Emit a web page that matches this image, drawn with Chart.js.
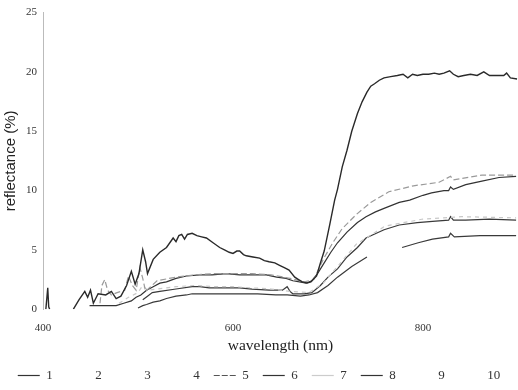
<!DOCTYPE html>
<html><head><meta charset="utf-8">
<script src="https://cdn.jsdelivr.net/npm/chart.js@4"></script>
<style>html,body{margin:0;padding:0;background:#fff}#wrap{width:518px;height:390px}</style>
</head><body><div id="wrap"><canvas id="c" width="518" height="390"></canvas></div>
<script>
const seriesNames = ['1','2','3','4','5','6','7','8','9','10'];
const xTicks = [400, 600, 800];
const yTicks = [0, 5, 10, 15, 20, 25];

const s1_nm  = [403,405,406,407,415,432,438,444,447,450,453,458,466,472,477,482,488,493,497,501,505,508,510,516,523,530,537,540,543,546,549,552,557,562,567,572,579,586,591,596,600,604,607,611,614,621,628,633,638,644,649,654,659,665,669,673,678,682,688,692,696,702,707,710,715,720,725,731,736,741,745,749,754,759,766,773,779,784,789,794,800,806,812,817,822,828,832,837,843,850,857,864,870,877,885,888,892,899];
const s1_val = [0,1.8,0.2,0,null,0,0.8,1.5,1.0,1.6,0.5,1.3,1.2,1.5,0.9,1.1,2.0,3.2,2.1,3.0,5.0,4.0,3.0,4.2,4.8,5.2,6.0,5.7,6.2,6.3,5.9,6.3,6.4,6.2,6.1,6.0,5.6,5.2,5.0,4.8,4.7,4.9,4.9,4.6,4.5,4.4,4.3,4.1,4.0,3.9,3.7,3.5,3.3,2.7,2.5,2.3,2.2,2.3,2.8,3.9,4.9,7.2,9.2,10.1,12.0,13.4,15.0,16.5,17.5,18.3,18.8,19.0,19.3,19.5,19.6,19.7,19.8,19.5,19.8,19.7,19.8,19.8,19.9,19.8,19.9,20.1,19.8,19.6,19.7,19.8,19.7,20.0,19.7,19.7,19.7,19.9,19.5,19.4];

const s5_nm  = [460,462,465,468,472,478,482,486,490,494,498,502,505,508,520,540,560,580,600,620,640,660,675,685,695,705,715,730,745,764,790,817,829,832,862,898];
const s5_val = [0.5,2.0,2.5,1.6,1.2,1.4,1.5,1.6,2.8,2.0,1.6,3.5,2.6,1.5,2.4,2.7,2.9,3.0,3.0,3.0,2.9,2.6,2.3,2.5,4.2,5.6,6.8,8.0,9.0,9.9,10.4,10.7,11.2,10.9,11.3,11.3];

const s6_nm  = [449,460,470,477,485,493,498,503,509,516,523,530,540,551,565,578,593,607,620,635,646,656,663,670,677,683,689,696,703,710,720,731,740,750,759,775,786,800,809,822,827,829,832,845,862,880,898];
const s6_val = [0.3,0.3,0.3,0.3,0.5,0.7,1.0,1.2,1.6,1.9,2.2,2.3,2.6,2.8,2.9,2.9,3.0,2.9,2.9,2.9,2.7,2.6,2.4,2.3,2.2,2.4,3.0,3.9,4.8,5.6,6.5,7.3,7.8,8.2,8.5,9.0,9.2,9.6,9.8,10.0,10.0,10.3,10.1,10.5,10.8,11.1,11.2];

const s7_nm  = [480,490,500,505,510,520,540,560,580,600,620,640,660,680,695,710,730,760,800,840,898];
const s7_val = [0.5,1.0,1.4,2.0,1.6,1.7,1.9,2.0,1.9,1.9,1.8,1.7,1.5,1.4,2.2,3.6,5.5,7.0,7.6,7.8,7.7];

const s8_nm  = [505,510,515,523,540,557,565,575,590,607,620,638,652,657,660,663,675,683,692,700,710,720,731,740,759,775,794,810,827,829,832,845,870,898];
const s8_val = [0.8,1.1,1.4,1.5,1.7,1.9,1.9,1.8,1.8,1.8,1.7,1.6,1.6,1.9,1.5,1.3,1.3,1.4,2.0,2.7,3.4,4.4,5.2,6.0,6.7,7.1,7.3,7.4,7.5,7.8,7.5,7.5,7.6,7.5];

const s9_nm  = [500,505,509,516,523,530,540,551,557,580,600,626,645,657,671,680,689,700,710,725,741,760,778,795,810,827,829,833,860,898];
const s9_val = [0.1,0.3,0.4,0.6,0.7,0.9,1.1,1.2,1.3,1.3,1.3,1.3,1.2,1.2,1.1,1.2,1.4,2.0,2.7,3.6,4.4,null,5.2,5.6,5.9,6.1,6.4,6.1,6.2,6.2];

const empty_nm = [];
const empty_val = [];

function pts(xs, ys){ return xs.map((x,i)=>({x:x, y:ys[i]})); }

const seriesX = [s1_nm, empty_nm, empty_nm, empty_nm, s5_nm, s6_nm, s7_nm, s8_nm, s9_nm, empty_nm];
const seriesY = [s1_val, empty_val, empty_val, empty_val, s5_val, s6_val, s7_val, s8_val, s9_val, empty_val];
const lineColors = ['#2a2a2a','#ffffff','#ffffff','#ffffff','#9a9a9a','#333333','#c8c8c8','#3a3a3a','#3a3a3a','#ffffff'];
const lineDashes = [[],[],[],[],[6,3],[],[4,4],[],[],[]];
const legendColors = ['#333','rgba(0,0,0,0)','rgba(0,0,0,0)','rgba(0,0,0,0)','#555','#333','#ccc','#333','rgba(0,0,0,0)','rgba(0,0,0,0)'];
const legendDashes = [[],[],[],[],[6,2],[],[],[],[],[]];

const datasets = seriesNames.map((n,i)=>({
  label: n,
  data: pts(seriesX[i], seriesY[i]),
  borderColor: lineColors[i],
  borderWidth: i===0 ? 1.4 : 1.2,
  borderDash: lineDashes[i],
  pointRadius: 0,
  tension: 0,
  spanGaps: false,
  fill: false
}));

const serif = "'Liberation Serif', 'DejaVu Serif', serif";
const sans = "'Liberation Sans', Arial, sans-serif";

new Chart(document.getElementById('c'), {
  type: 'line',
  data: { datasets },
  options: {
    responsive: false,
    animation: false,
    layout: { padding: { top: 6, right: 0, left: 0, bottom: -2 } },
    plugins: {
      tooltip: { enabled: false },
      legend: {
        position: 'bottom',
        labels: {
          font: { family: serif, size: 13 },
          color: '#333',
          usePointStyle: true,
          pointStyleWidth: 22,
          padding: 14,
          generateLabels: (chart) => chart.data.datasets.map((d,i)=>({
            text: d.label,
            fillStyle: 'rgba(0,0,0,0)',
            strokeStyle: legendColors[i],
            lineWidth: 1.2,
            lineDash: legendDashes[i],
            pointStyle: 'line',
            fontColor: '#333',
            datasetIndex: i,
            hidden: false
          }))
        }
      }
    },
    scales: {
      x: {
        type: 'linear',
        min: 400, max: 900,
        afterBuildTicks: (axis) => { axis.ticks = xTicks.map(v=>({value:v})); },
        ticks: { font: { family: serif, size: 11 }, color: '#333', padding: 12, maxRotation: 0 },
        grid: { display: false, drawTicks: false },
        border: { display: false },
        title: { display: true, text: 'wavelength (nm)', font: { family: serif, size: 15.5 }, color: '#222', padding: { top: -10, bottom: 0 } }
      },
      y: {
        min: 0, max: 25,
        afterBuildTicks: (axis) => { axis.ticks = yTicks.map(v=>({value:v})); },
        ticks: { font: { family: serif, size: 11 }, color: '#333', padding: 6 },
        grid: { display: false, drawTicks: false },
        border: { display: true, color: '#bbb', dash: [3,3], width: 1 },
        title: { display: true, text: 'reflectance (%)', font: { family: sans, size: 15 }, color: '#222', padding: { top: 2, bottom: 0 } }
      }
    }
  }
});
</script>
</body></html>
